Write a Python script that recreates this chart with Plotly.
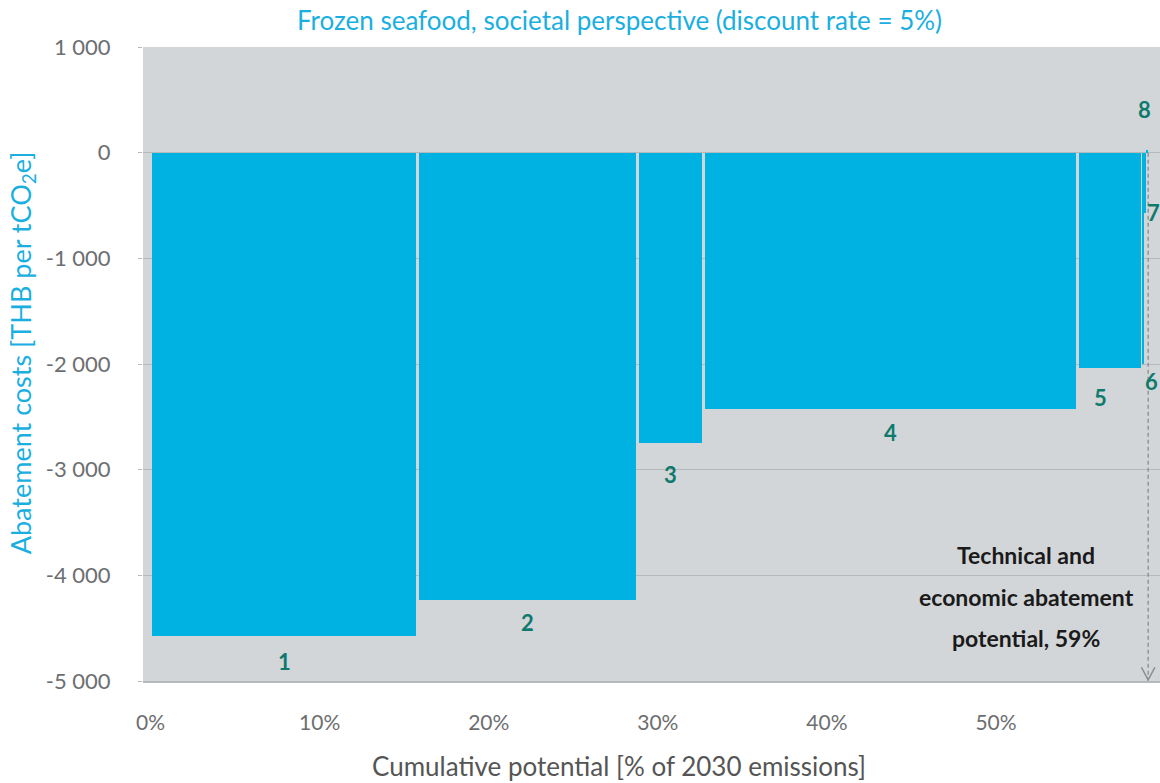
import numpy as np
import plotly.graph_objects as go

# ---- data ----
measures = ["1", "2", "3", "4", "5", "6", "7", "8"]
potential = [15.8, 13.0, 3.9, 22.1, 3.85, 0.12, 0.12, 0.11]   # % of 2030 emissions
cost = [-4570, -4235, -2745, -2425, -2035, -2000, -570, 30]     # THB per tCO2e
x_ticks = [0, 10, 20, 30, 40, 50]
x_tick_text = ["0%", "10%", "20%", "30%", "40%", "50%"]
y_ticks = [1000, 0, -1000, -2000, -3000, -4000, -5000]
y_tick_text = ["1 000", "0", "-1 000", "-2 000", "-3 000", "-4 000", "-5 000"]
total_label = "Technical and|economic abatement|potential, 59%"

BAR = "#00B2E2"
BG = "#D3D6D8"
GRID = "#B6B9BB"
TEAL = "#0E7A6E"
CYAN = "#1AAFE0"

pot = np.array(potential)
starts = np.concatenate([[0], np.cumsum(pot)[:-1]])
centers = starts + pot / 2
gap = np.where(pot > 1, 0.18, 0.0)
widths = pot - gap
total = pot.sum()

fig = go.Figure()
fig.add_trace(go.Bar(
    x=centers, y=cost, width=widths, marker=dict(color=BAR, line=dict(width=0)),
    hoverinfo="skip", showlegend=False,
))

# dashed total-potential line
fig.add_shape(type="line", x0=total, x1=total, y0=0, y1=-5000, xref="x", yref="y",
              line=dict(color="#8A8C8E", width=1.3, dash="4px,3px"))
# chevron arrow head at the bottom
fig.add_trace(go.Scatter(
    x=[total - 0.4, total, total + 0.4], y=[-4870, -4990, -4870],
    mode="lines", line=dict(color="#8A8C8E", width=1.5), hoverinfo="skip", showlegend=False,
))

annotations = []
label_shift = [(0, -26), (0, -22), (0, -32), (0, -24), (-9, -30), (8, -17), (8, 0), (-3, 40)]
for m, c, cy, (dx, dy) in zip(measures, centers, cost, label_shift):
    annotations.append(dict(
        x=c, y=cy, xref="x", yref="y", text=f"<b>{m}</b>", showarrow=False,
        font=dict(family="Lato", size=22, color=TEAL), xshift=dx, yshift=dy,
    ))

for i, line in enumerate(total_label.split("|")):
    annotations.append(dict(
        x=51.8, y=-4205, xref="x", yref="y", text=f"<b>{line}</b>", showarrow=False,
        font=dict(family="Lato", size=23, color="#1A1A1A"), yshift=42 - 41.5 * i,
    ))

annotations.append(dict(
    x=0.4685, y=1, xref="paper", yref="paper", yanchor="middle", yshift=27,
    text="Frozen seafood, societal perspective (discount rate = 5%)",
    showarrow=False, font=dict(family="Lato", size=26, color=CYAN),
))
annotations.append(dict(
    x=0.4685, y=0, xref="paper", yref="paper", yanchor="middle", yshift=-85,
    text="Cumulative potential [% of 2030 emissions]",
    showarrow=False, font=dict(family="Lato", size=26, color="#555555"),
))
annotations.append(dict(
    x=0, y=0.517, xref="paper", yref="paper", xanchor="center", yanchor="middle", xshift=-121,
    text="Abatement costs [THB per tCO<sub>2</sub>e]", textangle=-90,
    showarrow=False, font=dict(family="Lato", size=27, color=CYAN),
))

fig.update_layout(
    width=1160, height=783,
    margin=dict(l=143, r=0, t=47, b=102),
    paper_bgcolor="white", plot_bgcolor=BG,
    bargap=0,
    annotations=annotations,
    xaxis=dict(
        range=[-0.45, 59.7], tickvals=x_ticks, ticktext=x_tick_text,
        showgrid=False, zeroline=False, showline=True, linecolor=GRID, linewidth=1.5,
        ticks="", ticklabelstandoff=22,
        tickfont=dict(family="Lato", size=21, color="#6D6E70"),
    ),
    yaxis=dict(
        range=[-5000, 1000], tickvals=y_ticks, ticktext=y_tick_text,
        showgrid=True, gridcolor=GRID, gridwidth=1.2, zeroline=False, showline=False,
        ticks="outside", ticklen=4, tickcolor=GRID, ticklabelstandoff=23,
        tickfont=dict(family="Lato", size=22, color="#6D6E70"),
    ),
)

fig.write_html("out.html")
